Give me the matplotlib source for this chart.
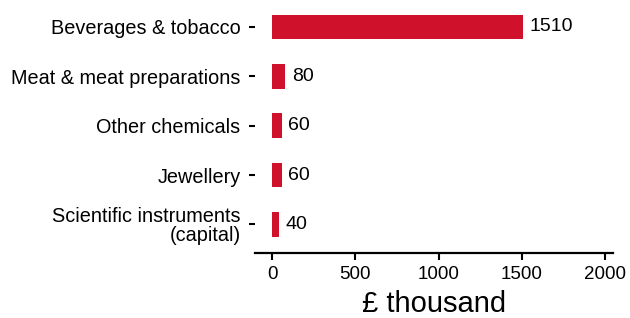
import matplotlib
matplotlib.use("Agg")
import matplotlib.pyplot as plt

categories = ["Beverages & tobacco", "Meat & meat preparations", "Other chemicals",
              "Jewellery", "Scientific instruments\n(capital)"]
values = [1510, 80, 60, 60, 40]
xticks = [0, 500, 1000, 1500, 2000]

plt.rcParams['font.family'] = ['Liberation Sans', 'DejaVu Sans']

fig = plt.figure(figsize=(6.3, 3.18), dpi=100)
ax = fig.add_axes([0.405, 0.204, 0.568, 0.789])

n = len(categories)
ypos = list(range(n - 1, -1, -1))
ax.barh(ypos, values, height=0.5, color="#D0112B")
for y, v in zip(ypos, values):
    ax.annotate(f"{v}", xy=(v, y), xytext=(4.5, 0), textcoords="offset points",
                va="center", ha="left", fontsize=14, color="black")

ax.set_yticks(ypos)
ax.set_yticklabels(categories, fontsize=14.3, color="black", linespacing=0.95)
ax.set_xticks(xticks)
ax.set_xticklabels([str(t) for t in xticks], fontsize=13.5, color="black")
ax.set_xlim(-102, 2048)
ax.set_ylim(-0.58, n - 1 + 0.5)
ax.set_xlabel("£ thousand", fontsize=21, color="black", labelpad=5)

for s in ["top", "right", "left"]:
    ax.spines[s].set_visible(False)
ax.spines["bottom"].set_linewidth(1.6)
ax.tick_params(axis="y", length=4.5, width=1.5, pad=6)
ax.tick_params(axis="x", length=5, width=1.5, pad=4)

fig.savefig("out.png", dpi=100)
